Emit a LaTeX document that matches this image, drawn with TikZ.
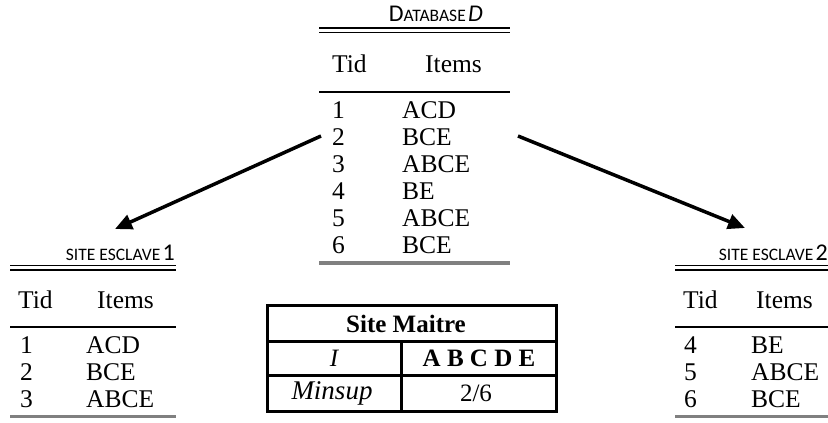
\documentclass[tikz,border=0pt]{standalone}
\usepackage{fontspec}
\setmainfont{Liberation Serif}
\newfontfamily\capfont{Carlito}
\usetikzlibrary{arrows.meta}
\definecolor{rulegray}{RGB}{128,128,128}
% small-caps sizes for the table captions
\newcommand{\capbig}[1]{{\fontsize{24}{26}\selectfont #1}}
\newcommand{\capsmall}[1]{{\fontsize{17.5}{19}\selectfont #1}}
\tikzset{
  cell/.style={anchor=base west, inner sep=0pt, font=\fontsize{25.5}{28}\selectfont},
  caption/.style={anchor=base east, inner sep=0pt, font=\capfont},
  mcell/.style={anchor=center, inner sep=0pt, font=\fontsize{25}{27}\selectfont},
  thinrule/.style={line width=1.6pt},
  headrule/.style={line width=2pt},
  endrule/.style={line width=3.5pt, rulegray},
  boxline/.style={line width=3pt, line cap=rect},
  flow/.style={line width=3.5pt, -{Triangle[length=17pt,width=15pt]}}
}
\begin{document}
\begin{tikzpicture}[x=1pt,y=-1pt]
\useasboundingbox (0,0) rectangle (828,423);

% ---------- Database D ----------
\node[caption] (dbcap) at (483,21) {\capbig{D}\capsmall{ATABASE} \capbig{\itshape D}};
\draw[thinrule] (319,28) -- (510,28);
\draw[thinrule] (319,32.5) -- (510,32.5);
\node[cell] (dbtid) at (332,72) {Tid};
\node[cell] (dbitems) at (425,72) {Items};
\draw[headrule] (319,92) -- (510,92);
\foreach \n/\it/\y in {1/ACD/118, 2/BCE/145, 3/ABCE/172, 4/BE/199, 5/ABCE/226, 6/BCE/253}{
  \node[cell] (dbn\n) at (332,\y) {\n};
  \node[cell] (dbi\n) at (402,\y) {\it};
}
\draw[endrule] (319,263) -- (510,263);

% ---------- Site esclave 1 ----------
\node[caption] (s1cap) at (175,260) {\capsmall{SITE ESCLAVE} \capbig{1}};
\draw[thinrule] (10,265.5) -- (176,265.5);
\draw[thinrule] (10,270) -- (176,270);
\node[cell] (s1tid) at (18,308) {Tid};
\node[cell] (s1items) at (97,308) {Items};
\draw[headrule] (10,326.5) -- (176,326.5);
\foreach \n/\it/\y in {1/ACD/353, 2/BCE/380, 3/ABCE/407}{
  \node[cell] (s1n\n) at (20,\y) {\n};
  \node[cell] (s1i\n) at (86,\y) {\it};
}
\draw[endrule] (10,416.5) -- (176,416.5);

% ---------- Site esclave 2 ----------
\node[caption] (s2cap) at (828,260) {\capsmall{SITE ESCLAVE} \capbig{2}};
\draw[thinrule] (675,265.5) -- (828,265.5);
\draw[thinrule] (675,270) -- (828,270);
\node[cell] (s2tid) at (683,308) {Tid};
\node[cell] (s2items) at (756,308) {Items};
\draw[headrule] (675,326.5) -- (828,326.5);
\foreach \n/\it/\y in {4/BE/353, 5/ABCE/380, 6/BCE/407}{
  \node[cell] (s2n\n) at (684,\y) {\n};
  \node[cell] (s2i\n) at (751,\y) {\it};
}
\draw[endrule] (675,416.5) -- (828,416.5);

% ---------- Site maitre ----------
\draw[boxline] (267,305.5) rectangle (556,411);
\draw[boxline] (267,341.5) -- (556,341.5);
\draw[boxline] (267,375) -- (556,375);
\draw[boxline] (401,341.5) -- (401,411);
\node[mcell] (mtitle) at (406,324) {\bfseries Site Maitre};
\node[mcell] (mI) at (334,358.5) {\itshape I};
\node[mcell] (mitems) at (479,358.5) {\bfseries A B C D E};
\node[mcell] (mmin) at (332,393) {\fontsize{27}{29}\selectfont\itshape Minsup};
\node[mcell] (mval) at (476,393) {2/6};

% ---------- distribution arrows ----------
\coordinate (aL0) at (321,136);
\coordinate (aL1) at (115,229);
\coordinate (aR0) at (518,136);
\coordinate (aR1) at (745,228);
\draw[flow] (aL0) -- (aL1);
\draw[flow] (aR0) -- (aR1);
\end{tikzpicture}
\end{document}
